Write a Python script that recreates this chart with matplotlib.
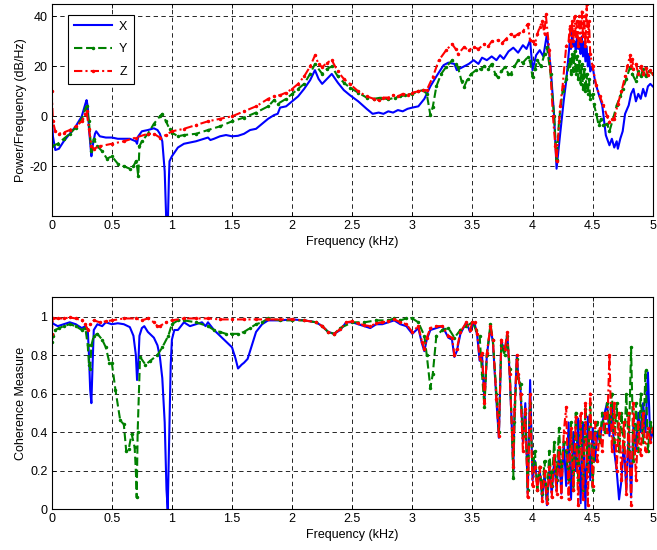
import numpy as np
import matplotlib
matplotlib.use("Agg")
import matplotlib.pyplot as plt

plt.rcParams['font.family'] = ['Liberation Sans', 'DejaVu Sans']
plt.rcParams['font.size'] = 9

# ---- top panel: power spectral density (dB/Hz) ----
x_psd_f = [0, 0.01, 0.03, 0.06, 0.1, 0.15, 0.2, 0.25, 0.28, 0.29,
           0.30, 0.31, 0.33, 0.34, 0.36, 0.37, 0.4, 0.45, 0.5, 0.55,
           0.6, 0.65, 0.7, 0.71, 0.72, 0.75, 0.8, 0.85, 0.88, 0.9,
           0.92, 0.94, 0.955, 0.965, 0.975, 0.98, 1.0, 1.05, 1.1, 1.2,
           1.3, 1.32, 1.35, 1.4, 1.45, 1.5, 1.55, 1.6, 1.65, 1.7,
           1.75, 1.8, 1.85, 1.88, 1.9, 1.95, 2.0, 2.05, 2.1, 2.15,
           2.19, 2.22, 2.25, 2.28, 2.33, 2.38, 2.43, 2.48, 2.55, 2.62,
           2.67, 2.72, 2.76, 2.8, 2.84, 2.88, 2.92, 2.96, 3.0, 3.05,
           3.1, 3.15, 3.2, 3.26, 3.3, 3.35, 3.37, 3.43, 3.47, 3.51,
           3.55, 3.58, 3.62, 3.66, 3.7, 3.73, 3.76, 3.8, 3.84, 3.88,
           3.92, 3.95, 3.98, 4.0, 4.03, 4.06, 4.09, 4.12, 4.15, 4.18,
           4.2, 4.23, 4.26, 4.28, 4.3, 4.31, 4.32, 4.33, 4.34, 4.35,
           4.36, 4.37, 4.38, 4.39, 4.4, 4.41, 4.42, 4.43, 4.44, 4.45,
           4.46, 4.47, 4.48, 4.5, 4.52, 4.55, 4.58, 4.61, 4.64, 4.66,
           4.68, 4.7, 4.71, 4.73, 4.75, 4.77, 4.8, 4.82, 4.84, 4.86,
           4.88, 4.9, 4.92, 4.94, 4.96, 4.98, 5.0]
x_psd_db = [1, -8, -13.5, -13, -10, -7, -4, 0, 5, 6.5,
            4, -5, -16, -12, -7, -6, -8, -8.5, -8.5, -9,
            -9, -9, -10, -11, -8, -6, -5.5, -4.8, -5.5, -7,
            -10, -22, -45, -45, -25, -18, -16, -12.5, -11, -10,
            -8.5, -9.5, -9, -8, -7.5, -8, -7.8, -7, -5.5, -5,
            -3, -1, 0.5, 1, 3.5, 4, 6, 8, 11, 14.5,
            18.5, 15, 13, 14.5, 17, 13.5, 10.5, 8.5, 6, 3,
            1, 1.5, 1, 2, 1.5, 2.5, 2, 3, 3.5, 4,
            7, 12, 16, 20.5, 21.5, 21, 18.5, 20, 21, 22.5,
            21, 23.5, 22.5, 24, 22.5, 24.5, 23, 26, 27.5, 25.5,
            28.5, 27, 30.5, 18.5, 24.5, 26.5, 24, 33, 20, 0,
            -21, -7, 6.5, 14, 25, 30, 27, 34, 28, 30,
            26, 32, 27, 30, 25, 32, 24, 30, 22, 28,
            20, 25, 18, 20, 14, 9, 4.4, -7.6, -11.6, -9,
            -12.5, -10, -13, -9, -6, 1, 4.4, 9, 11, 6,
            9, 7, 11, 8, 12, 13, 12]

y_psd_f = [0, 0.05, 0.1, 0.15, 0.2, 0.25, 0.28, 0.29, 0.31, 0.33,
           0.35, 0.38, 0.42, 0.46, 0.5, 0.55, 0.6, 0.65, 0.68, 0.7,
           0.71, 0.72, 0.73, 0.75, 0.8, 0.85, 0.9, 0.92, 0.95, 0.98,
           1.0, 1.05, 1.1, 1.2, 1.3, 1.4, 1.5, 1.6, 1.7, 1.8,
           1.85, 1.88, 1.95, 2.0, 2.05, 2.1, 2.15, 2.19, 2.25, 2.29,
           2.33, 2.38, 2.43, 2.48, 2.55, 2.62, 2.68, 2.74, 2.8, 2.86,
           2.9, 2.94, 3.0, 3.05, 3.09, 3.12, 3.15, 3.17, 3.2, 3.24,
           3.28, 3.33, 3.36, 3.38, 3.41, 3.43, 3.46, 3.49, 3.53, 3.57,
           3.6, 3.63, 3.66, 3.69, 3.71, 3.74, 3.77, 3.8, 3.82, 3.85,
           3.88, 3.92, 3.96, 3.98, 4.0, 4.02, 4.04, 4.07, 4.1, 4.12,
           4.15, 4.18, 4.2, 4.22, 4.25, 4.28, 4.3, 4.31, 4.32, 4.33,
           4.34, 4.35, 4.36, 4.37, 4.38, 4.39, 4.4, 4.41, 4.42, 4.43,
           4.44, 4.45, 4.46, 4.47, 4.48, 4.5, 4.51, 4.53, 4.55, 4.57,
           4.59, 4.62, 4.64, 4.67, 4.7, 4.73, 4.75, 4.78, 4.81, 4.83,
           4.86, 4.88, 4.9, 4.92, 4.94, 4.97, 5.0]
y_psd_db = [-12, -11, -9, -7, -4.5, -1, 3, 4, -2, -14,
            -9, -12, -14, -17, -16, -19, -20, -21, -20, -18,
            -20, -24, -12, -10, -7, -3, 0, 1, -2, -5,
            -6.5, -8, -7.5, -7, -5.5, -4, -2, -0.5, 1.5, 4,
            6.5, 5, 7, 9, 11, 13, 17, 21, 17, 19,
            20, 16, 13.5, 11.5, 9.5, 7.5, 7, 7.5, 6.8, 7.5,
            8, 8.5, 9, 10, 10.5, 9, 0.5, 3.7, 12, 17,
            19.7, 22.4, 21, 19.7, 14, 11.7, 15, 17, 18.5, 19,
            20, 19, 21, 17, 15.7, 18, 19.7, 17, 17, 20,
            22.4, 21.5, 23.7, 22, 15.7, 19, 22.4, 20, 25, 27.7,
            17, 0, -17.6, -2, 10, 15, 20, 23, 17, 25,
            18, 26, 17, 24, 15, 22, 13, 21, 11, 19,
            10, 17, 9, 15, 7, 9, 5, 1, -3.6, -1,
            -3.6, -3, -6, -1, 4.4, 8, 11, 15, 19.5, 17,
            14, 18, 16, 19, 16, 18, 17]

z_psd_f = [0, 0.01, 0.03, 0.06, 0.1, 0.15, 0.2, 0.25, 0.28, 0.29,
           0.31, 0.33, 0.35, 0.4, 0.5, 0.6, 0.7, 0.8, 0.85, 0.9,
           0.95, 1.0, 1.1, 1.2, 1.3, 1.4, 1.5, 1.6, 1.7, 1.8,
           1.85, 1.9, 1.95, 2.0, 2.05, 2.1, 2.15, 2.19, 2.22, 2.25,
           2.29, 2.33, 2.38, 2.43, 2.48, 2.55, 2.62, 2.68, 2.72, 2.76,
           2.8, 2.84, 2.88, 2.92, 2.96, 3.0, 3.05, 3.09, 3.12, 3.17,
           3.22, 3.28, 3.33, 3.36, 3.38, 3.43, 3.47, 3.51, 3.55, 3.6,
           3.63, 3.66, 3.71, 3.75, 3.78, 3.82, 3.85, 3.88, 3.92, 3.96,
           3.98, 4.0, 4.02, 4.04, 4.06, 4.08, 4.1, 4.11, 4.14, 4.17,
           4.19, 4.2, 4.23, 4.25, 4.28, 4.3, 4.31, 4.32, 4.33, 4.34,
           4.35, 4.36, 4.37, 4.38, 4.39, 4.4, 4.41, 4.42, 4.43, 4.44,
           4.45, 4.46, 4.47, 4.48, 4.5, 4.53, 4.56, 4.59, 4.62, 4.64,
           4.66, 4.68, 4.71, 4.74, 4.77, 4.79, 4.81, 4.82, 4.83, 4.84,
           4.86, 4.88, 4.9, 4.92, 4.94, 4.96, 4.98, 5.0]
z_psd_db = [10, -2, -6, -7, -6.5, -5.5, -4, -2, 1, 2,
            -5, -12, -13, -12, -11, -10, -8.5, -7, -7, -8.5,
            -7.5, -6, -5, -3.5, -2, -1, 0, 2, 4, 7,
            8, 8.5, 9.5, 11, 13, 16, 20, 24.4, 21, 19.7,
            21.5, 22.5, 18, 15, 13, 10, 8, 7, 6.5, 7.5,
            7.5, 8.5, 8, 9, 8.5, 9.5, 10, 10.5, 10.5, 15.7,
            22.4, 26.4, 29, 27, 25, 27.7, 26.5, 27.7, 27, 29,
            28, 30, 30.4, 29.5, 31, 33, 32, 33, 34, 37,
            30.4, 30, 29, 33, 35.7, 38, 33, 41, 26.4, 0,
            -12, -18, 4, 12, 28, 30, 36, 28, 38, 30,
            40, 32, 38, 28, 40, 30, 42, 32, 40, 28,
            45, 30, 38, 25, 20, 12.4, 8, 4.4, 0, -2.3,
            -1, -1, 5, 10, 16, 20, 24.4, 20, 23, 19,
            21, 17, 20, 17, 19.5, 16.5, 18.5, 17]

# ---- bottom panel: coherence ----
x_coh_f = [0, 0.02, 0.05, 0.1, 0.15, 0.2, 0.25, 0.28, 0.3, 0.31,
           0.32, 0.33, 0.34, 0.35, 0.38, 0.42, 0.45, 0.5, 0.55, 0.6,
           0.65, 0.68, 0.7, 0.71, 0.72, 0.73, 0.75, 0.77, 0.8, 0.85,
           0.88, 0.9, 0.92, 0.94, 0.955, 0.965, 0.975, 0.99, 1.0, 1.02,
           1.05, 1.1, 1.15, 1.2, 1.25, 1.28, 1.3, 1.35, 1.4, 1.45,
           1.5, 1.53, 1.55, 1.58, 1.6, 1.63, 1.66, 1.7, 1.75, 1.8,
           1.9, 2.0, 2.1, 2.2, 2.25, 2.3, 2.35, 2.4, 2.45, 2.5,
           2.55, 2.6, 2.65, 2.7, 2.75, 2.8, 2.85, 2.9, 2.95, 3.0,
           3.05, 3.08, 3.1, 3.12, 3.15, 3.2, 3.25, 3.3, 3.33, 3.35,
           3.37, 3.4, 3.45, 3.48, 3.5, 3.52, 3.54, 3.56, 3.58, 3.6,
           3.62, 3.65, 3.67, 3.7, 3.72, 3.74, 3.77, 3.79, 3.81, 3.83,
           3.84, 3.85, 3.87, 3.88]
x_coh = [0.97, 0.96, 0.95, 0.96, 0.97, 0.96, 0.94, 0.95, 0.93, 0.8,
         0.62, 0.55, 0.75, 0.93, 0.96, 0.95, 0.97, 0.96, 0.965, 0.96,
         0.945, 0.9, 0.8, 0.67, 0.75, 0.9, 0.94, 0.95, 0.92, 0.89,
         0.85, 0.79, 0.68, 0.45, 0.1, 0.0, 0.3, 0.75, 0.88, 0.93,
         0.93, 0.97, 0.95, 0.96, 0.97, 0.95, 0.97, 0.93, 0.9, 0.87,
         0.84, 0.78, 0.73, 0.75, 0.76, 0.78, 0.84, 0.92, 0.96, 0.98,
         0.98, 0.985, 0.98, 0.97, 0.95, 0.92, 0.91, 0.93, 0.97, 0.97,
         0.96, 0.95, 0.94, 0.96, 0.96, 0.97, 0.98, 0.96, 0.95, 0.91,
         0.94, 0.86, 0.82, 0.88, 0.93, 0.94, 0.95, 0.89, 0.88, 0.79,
         0.82, 0.91, 0.97, 0.92, 0.96, 0.96, 0.9, 0.77, 0.8, 0.56,
         0.8, 0.94, 0.87, 0.56, 0.37, 0.87, 0.82, 0.91, 0.7, 0.39,
         0.2, 0.5, 0.8, 0.7]

y_coh_f = [0, 0.01, 0.03, 0.06, 0.1, 0.15, 0.2, 0.25, 0.28, 0.3,
           0.31, 0.32, 0.33, 0.35, 0.38, 0.42, 0.45, 0.48, 0.5, 0.53,
           0.57, 0.6, 0.62, 0.64, 0.665, 0.69, 0.7, 0.707, 0.715, 0.735,
           0.78, 0.82, 0.88, 0.92, 0.97, 1.0, 1.05, 1.1, 1.2, 1.3,
           1.35, 1.4, 1.45, 1.5, 1.55, 1.6, 1.65, 1.7, 1.75, 1.8,
           1.9, 2.0, 2.1, 2.2, 2.25, 2.3, 2.35, 2.4, 2.5, 2.6,
           2.7, 2.8, 2.85, 2.9, 2.95, 3.0, 3.05, 3.1, 3.12, 3.15,
           3.17, 3.2, 3.25, 3.3, 3.35, 3.4, 3.45, 3.5, 3.53, 3.56,
           3.58, 3.6, 3.62, 3.65, 3.67, 3.7, 3.72, 3.74, 3.77, 3.79,
           3.81, 3.83, 3.84, 3.85, 3.87, 3.88]
y_coh = [0.87, 0.9, 0.93, 0.94, 0.95, 0.96, 0.95, 0.93, 0.94, 0.85,
         0.75, 0.73, 0.85, 0.9, 0.91, 0.88, 0.84, 0.76, 0.76, 0.62,
         0.46, 0.44, 0.3, 0.31, 0.39, 0.32, 0.2, 0.06, 0.4, 0.79,
         0.75, 0.77, 0.8, 0.84, 0.9, 0.96, 0.98, 0.98, 0.97, 0.95,
         0.93, 0.92, 0.91, 0.91, 0.91, 0.92, 0.94, 0.96, 0.97, 0.99,
         0.98, 0.98, 0.98, 0.97, 0.95, 0.92, 0.91, 0.94, 0.97, 0.97,
         0.98, 0.98, 0.99, 0.98, 0.99, 0.99, 0.97, 0.9, 0.8, 0.63,
         0.7, 0.9, 0.93, 0.94, 0.89, 0.93, 0.95, 0.97, 0.93, 0.9,
         0.7, 0.53, 0.8, 0.96, 0.88, 0.6, 0.4, 0.85, 0.8, 0.9,
         0.73, 0.38, 0.16, 0.45, 0.78, 0.68]

z_coh_f = [0, 0.01, 0.05, 0.1, 0.15, 0.2, 0.25, 0.28, 0.3, 0.32,
           0.35, 0.4, 0.45, 0.5, 0.6, 0.7, 0.75, 0.8, 0.85, 0.88,
           0.9, 0.95, 1.0, 1.1, 1.2, 1.3, 1.4, 1.5, 1.6, 1.7,
           1.8, 1.9, 2.0, 2.1, 2.2, 2.25, 2.3, 2.35, 2.4, 2.45,
           2.5, 2.55, 2.6, 2.65, 2.7, 2.75, 2.8, 2.85, 2.9, 2.95,
           3.0, 3.05, 3.08, 3.1, 3.12, 3.15, 3.2, 3.25, 3.3, 3.33,
           3.35, 3.37, 3.4, 3.45, 3.48, 3.5, 3.52, 3.54, 3.56, 3.58,
           3.6, 3.62, 3.65, 3.67, 3.7, 3.72, 3.74, 3.77, 3.79, 3.81,
           3.83, 3.84, 3.85, 3.87, 3.88]
z_coh = [0.91, 0.99, 0.99, 0.99, 0.995, 0.99, 0.98, 0.96, 0.93, 0.96,
         0.98, 0.97, 0.975, 0.98, 0.99, 0.99, 0.98, 0.99, 0.97, 0.95,
         0.95, 0.97, 0.98, 0.99, 0.99, 0.99, 0.985, 0.985, 0.985, 0.985,
         0.985, 0.985, 0.985, 0.98, 0.97, 0.95, 0.92, 0.91, 0.935, 0.97,
         0.975, 0.965, 0.955, 0.95, 0.965, 0.97, 0.975, 0.985, 0.97, 0.96,
         0.92, 0.95, 0.87, 0.83, 0.89, 0.94, 0.95, 0.95, 0.9, 0.89,
         0.8, 0.83, 0.92, 0.97, 0.93, 0.97, 0.97, 0.91, 0.78, 0.81,
         0.55, 0.81, 0.95, 0.88, 0.57, 0.38, 0.88, 0.83, 0.92, 0.7,
         0.4, 0.22, 0.52, 0.8, 0.7]

# noisy high-frequency part of the coherence (shared frequency points)
coh_hi_f = [3.90, 3.92, 3.94, 3.96, 3.98, 4.00, 4.02, 4.04, 4.06, 4.08,
            4.10, 4.12, 4.14, 4.16, 4.18, 4.20, 4.22, 4.24, 4.26, 4.28,
            4.30, 4.32, 4.34, 4.36, 4.38, 4.40, 4.42, 4.44, 4.46, 4.48,
            4.50, 4.52, 4.54, 4.56, 4.58, 4.60, 4.62, 4.64, 4.66, 4.68,
            4.70, 4.72, 4.74, 4.76, 4.78, 4.80, 4.82, 4.84, 4.86, 4.88,
            4.90, 4.92, 4.94, 4.96, 4.98, 5.00]
x_coh_hi = [0.62, 0.35, 0.55, 0.08, 0.67, 0.15, 0.25, 0.12, 0.2, 0.06,
            0.18, 0.02, 0.2, 0.08, 0.25, 0.1, 0.3, 0.08, 0.35, 0.12,
            0.45, 0.05, 0.4, 0.2, 0.47, 0.03, 0.45, 0.0, 0.48, 0.15,
            0.42, 0.25, 0.4, 0.35, 0.45, 0.5, 0.55, 0.38, 0.52, 0.3,
            0.2, 0.05, 0.15, 0.35, 0.1, 0.4, 0.06, 0.45, 0.3, 0.5,
            0.4, 0.55, 0.4, 0.71, 0.35, 0.4]
y_coh_hi = [0.65, 0.38, 0.5, 0.1, 0.55, 0.2, 0.3, 0.1, 0.22, 0.08,
            0.25, 0.05, 0.3, 0.12, 0.35, 0.15, 0.42, 0.2, 0.35, 0.3,
            0.15, 0.45, 0.1, 0.5, 0.15, 0.45, 0.1, 0.52, 0.2, 0.55,
            0.1, 0.4, 0.45, 0.35, 0.5, 0.4, 0.55, 0.45, 0.6, 0.35,
            0.55, 0.3, 0.5, 0.3, 0.6, 0.3, 0.84, 0.25, 0.55, 0.3,
            0.6, 0.35, 0.72, 0.3, 0.45, 0.4]
z_coh_hi = [0.6, 0.3, 0.52, 0.06, 0.6, 0.12, 0.22, 0.1, 0.22, 0.04,
            0.2, 0.03, 0.22, 0.06, 0.28, 0.08, 0.32, 0.06, 0.4, 0.53,
            0.05, 0.42, 0.1, 0.48, 0.02, 0.5, 0.05, 0.55, 0.02, 0.6,
            0.12, 0.45, 0.25, 0.42, 0.3, 0.5, 0.4, 0.8, 0.3, 0.55,
            0.2, 0.5, 0.15, 0.45, 0.08, 0.5, 0.02, 0.55, 0.15, 0.45,
            0.28, 0.5, 0.3, 0.42, 0.35, 0.42]

labels = ['X', 'Y', 'Z']
x_ticks = [0, 0.5, 1, 1.5, 2, 2.5, 3, 3.5, 4, 4.5, 5]
x_ticklabels = ['0', '0.5', '1', '1.5', '2', '2.5', '3', '3.5', '4', '4.5', '5']

# line styles (MATLAB-like)
styles = [
    dict(color='#0000ff', linestyle='-', linewidth=1.5),
    dict(color='#008000', linestyle=(0, (4, 1.8)), linewidth=1.5, marker='.', markersize=3),
    dict(color='#ff0000', linestyle=(0, (4, 1.5, 1, 1.5)), linewidth=1.5, marker='.', markersize=3),
]

fig = plt.figure(figsize=(6.57, 5.5), dpi=100)
ax1 = fig.add_axes([0.0787, 0.607, 0.9148, 0.3857])
ax2 = fig.add_axes([0.0787, 0.0745, 0.9148, 0.385])

psd = [(x_psd_f, x_psd_db), (y_psd_f, y_psd_db), (z_psd_f, z_psd_db)]
for (f, v), lab, st in zip(psd, labels, styles):
    ax1.plot(f, v, label=lab, **st)

coh = [(x_coh_f + coh_hi_f, x_coh + x_coh_hi),
       (y_coh_f + coh_hi_f, y_coh + y_coh_hi),
       (z_coh_f + coh_hi_f, z_coh + z_coh_hi)]
for (f, v), st in zip(coh, styles):
    ax2.plot(f, v, **st)

grid_kw = dict(color='0.15', linestyle=(0, (4.5, 3.5)), linewidth=0.7)
for ax in (ax1, ax2):
    ax.set_xlim(0, 5)
    ax.set_xticks(x_ticks)
    ax.set_xticklabels(x_ticklabels)
    ax.grid(True, **grid_kw)
    ax.set_axisbelow(True)
    ax.tick_params(direction='in', length=3, width=0.6, top=True, right=True,
                   labelsize=9, pad=3)
    for s in ax.spines.values():
        s.set_linewidth(0.8)
    ax.set_xlabel('Frequency (kHz)', fontsize=9, labelpad=3)

ax1.set_ylim(-40, 45)
ax1.set_yticks([-20, 0, 20, 40])
ax1.set_yticklabels(['-20', '0', '20', '40'])
ax1.set_ylabel('Power/Frequency (dB/Hz)', fontsize=9, labelpad=2)

ax2.set_ylim(0, 1.1)
ax2.set_yticks([0, 0.2, 0.4, 0.6, 0.8, 1.0])
ax2.set_yticklabels(['0', '0.2', '0.4', '0.6', '0.8', '1'])
ax2.set_ylabel('Coherence Measure', fontsize=9, labelpad=2)

leg = ax1.legend(loc='upper left', bbox_to_anchor=(0.027, 0.95), borderaxespad=0,
                 fancybox=False, edgecolor='k', framealpha=1, handlelength=3.0,
                 handletextpad=0.6, fontsize=9, labelspacing=0.85, borderpad=0.5)
leg.get_frame().set_linewidth(0.8)

fig.savefig('out.png', dpi=100)
